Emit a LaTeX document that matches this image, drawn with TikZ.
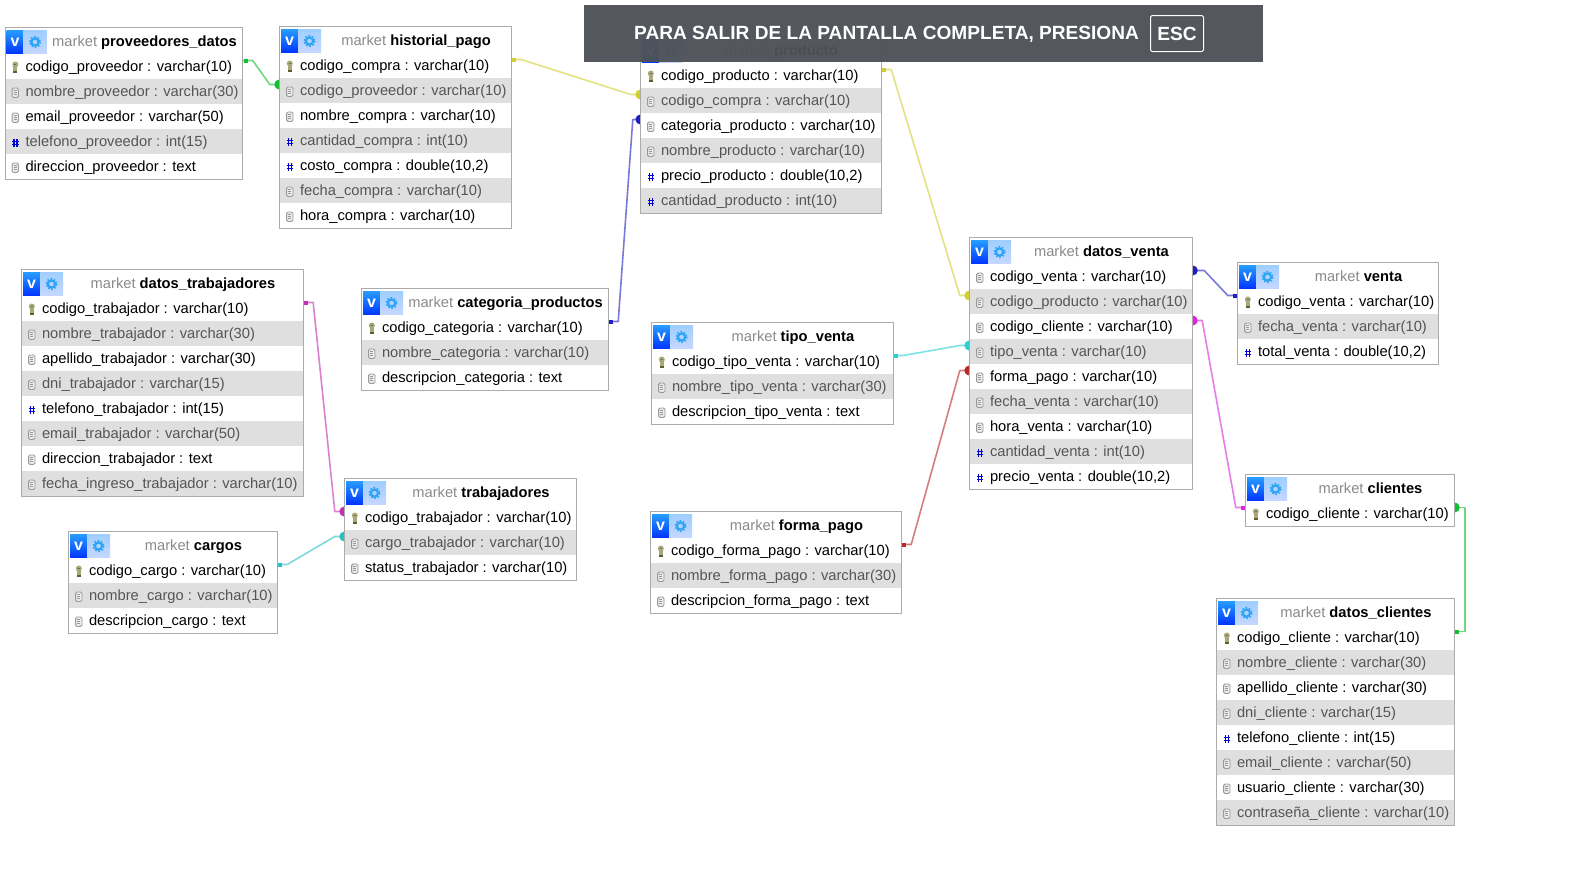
\documentclass[tikz,border=0pt]{standalone}
\usepackage{fontspec}
\setmainfont{Liberation Sans}
\usetikzlibrary{backgrounds}

\definecolor{rowgray}{HTML}{DFDFDF}
\definecolor{tableline}{HTML}{ABABAB}
\definecolor{dimtext}{HTML}{555555}
\definecolor{marketgray}{HTML}{8A8A8A}
\definecolor{gearblue}{HTML}{2FA4F5}
\definecolor{bannergray}{HTML}{4E5157}
\definecolor{keytan}{HTML}{A8A878}
\definecolor{keydark}{HTML}{5E5E34}
\definecolor{linkgreen}{HTML}{10C030}
\definecolor{linkolive}{HTML}{CFCF30}
\definecolor{linkblue}{HTML}{2020C0}
\definecolor{linkcyan}{HTML}{28D0D0}
\definecolor{linkred}{HTML}{B82828}
\definecolor{linkpink}{HTML}{D828D8}
\definecolor{linkplum}{HTML}{C030B0}
\definecolor{linkteal}{HTML}{28C0C0}

\tikzset{
  dbtitle/.style={rectangle, fill=white, minimum height=26pt, inner sep=0pt},
  dbrow/.style={rectangle, minimum height=25pt, inner sep=0pt},
  rowlabel/.style={anchor=west, inner sep=0pt, text height=11pt, text depth=3.5pt,
    font=\fontsize{14.7pt}{16pt}\selectfont},
  titlelabel/.style={inner sep=0pt, text height=11pt, text depth=3.5pt,
    font=\fontsize{14.7pt}{16pt}\selectfont},
  vlabel/.style={inner sep=0pt, text=white, font=\fontsize{16pt}{16pt}\selectfont\bfseries},
  tablebox/.style={draw=tableline, line width=1pt},
  linkline/.style={line width=1.6pt, opacity=0.6, line join=round},
  bannerlabel/.style={inner sep=0pt, text=white, font=\fontsize{19.1pt}{20pt}\selectfont\bfseries},
}

% row icons, drawn round the origin of a scope
\newcommand{\rowiconk}{%
  \fill[keytan] (0,-3) circle (3);
  \fill[keytan] (-2,-3) rectangle (2,5);
  \fill[black!60] (-1,-3.6) rectangle (1,-2.4);
  \fill[keydark] (-2,3.8) rectangle (2,5);
}
\newcommand{\rowicont}{%
  \draw[black!40, fill=black!8, rounded corners=1.5pt, line width=0.9pt] (-3.2,-4.5) rectangle (3.2,5);
  \foreach \liney in {-2,0,2} {\draw[black!40, line width=0.6pt] (-1.6,\liney) -- (1.6,\liney);}
}
\newcommand{\rowiconn}{%
  \draw[blue!85!black, line width=1.2pt]
    (-1.4,-3.5) -- (-1.4,4.5) (1.6,-3.5) -- (1.6,4.5)
    (-3.2,-1.2) -- (3.2,-1.2) (-3.2,2) -- (3.2,2);
}

% id, left, top, right, table name, rows (kind/text)
\newcommand{\dbtable}[6]{%
  \pgfmathsetmacro{\tw}{#4-#2}
  \pgfmathsetmacro{\tmid}{(#2+#4)/2}
  \pgfmathsetmacro{\tname}{(#2+#4+41)/2}
  \pgfmathsetmacro{\ttitle}{#3+13}
  \node[dbtitle, minimum width=\tw pt] (#1-title) at (\tmid,\ttitle) {};
  % header buttons
  \shade[top color=blue!45!cyan!85!white, bottom color=blue!80!cyan] (#2+1,#3+2) rectangle (#2+18,#3+26);
  \shade[top color=cyan!50!blue!38!white, bottom color=cyan!30!blue!22!white] (#2+18,#3+2) rectangle (#2+41,#3+26);
  \node[vlabel] (#1-v) at (#2+9.5,\ttitle+1) {v};
  \draw[gearblue, line width=2.2pt] (#2+29.5,\ttitle+1) circle (3.6);
  \draw[gearblue, line width=1.5pt, dash pattern=on 1.6pt off 1.8pt] (#2+29.5,\ttitle+1) circle (5.4);
  \node[titlelabel] (#1-name) at (\tname,\ttitle+2) {\textcolor{marketgray}{market} \textbf{#5}};
  % rows
  \foreach \rowkind/\rowtext [count=\n] in {#6} {
    \pgfmathsetmacro{\rowy}{#3+38.5+25*(\n-1)}
    \ifodd\n
      \node[dbrow, fill=white, minimum width=\tw pt] (#1-\n) at (\tmid,\rowy) {};
      \node[rowlabel] (#1-\n-text) at ([xshift=20pt,yshift=-1pt]#1-\n.west) {\rowtext};
    \else
      \node[dbrow, fill=rowgray, minimum width=\tw pt] (#1-\n) at (\tmid,\rowy) {};
      \node[rowlabel, text=dimtext] (#1-\n-text) at ([xshift=20pt,yshift=-1pt]#1-\n.west) {\rowtext};
    \fi
    \begin{scope}[shift={([xshift=10pt,yshift=-1pt]#1-\n.west)}]
      \csname rowicon\rowkind\endcsname
    \end{scope}
    \xdef\lastrow{\n}
  }
  \draw[tablebox] (#1-title.north west) rectangle (#1-\lastrow.south east);
}

% colour, from row, stub, to row, stub
\newcommand{\dblink}[5]{%
  \coordinate (linkfrom) at ([yshift=6pt]#2);
  \coordinate (linkto) at ([yshift=6pt]#4);
  \draw[linkline, #1] (linkfrom) -- ([xshift=#3 pt]linkfrom) -- ([xshift=#5 pt]linkto) -- (linkto);
  \fill[#1] ([xshift=.28*#3 pt]linkfrom) +(-2,-2) rectangle +(2,2);
  \fill[#1] ([xshift=.05*#5 pt]linkto) circle (5);
}

\begin{document}
\begin{tikzpicture}[x=1pt, y=-1pt]
  \useasboundingbox (0,0) rectangle (1570,870);

  \begin{scope}[shift={(1,1)}]
  % ====== TABLES ======
  \dbtable{proveedores}{4.5}{27}{241.5}{proveedores\_datos}{
    k/codigo\_proveedor : varchar(10),
    t/nombre\_proveedor : varchar(30),
    t/email\_proveedor : varchar(50),
    n/telefono\_proveedor : int(15),
    t/direccion\_proveedor : text}
  \dbtable{historial}{279}{26}{510}{historial\_pago}{
    k/codigo\_compra : varchar(10),
    t/codigo\_proveedor : varchar(10),
    t/nombre\_compra : varchar(10),
    n/cantidad\_compra : int(10),
    n/{costo\_compra : double(10,2)},
    t/fecha\_compra : varchar(10),
    t/hora\_compra : varchar(10)}
  \dbtable{producto}{640}{36}{880}{producto}{
    k/codigo\_producto : varchar(10),
    t/codigo\_compra : varchar(10),
    t/categoria\_producto : varchar(10),
    t/nombre\_producto : varchar(10),
    n/{precio\_producto : double(10,2)},
    n/cantidad\_producto : int(10)}
  \dbtable{trabdatos}{21}{269}{302}{datos\_trabajadores}{
    k/codigo\_trabajador : varchar(10),
    t/nombre\_trabajador : varchar(30),
    t/apellido\_trabajador : varchar(30),
    t/dni\_trabajador : varchar(15),
    n/telefono\_trabajador : int(15),
    t/email\_trabajador : varchar(50),
    t/direccion\_trabajador : text,
    t/fecha\_ingreso\_trabajador : varchar(10)}
  \dbtable{categoria}{361}{288}{607}{categoria\_productos}{
    k/codigo\_categoria : varchar(10),
    t/nombre\_categoria : varchar(10),
    t/descripcion\_categoria : text}
  \dbtable{tipoventa}{651}{322}{892}{tipo\_venta}{
    k/codigo\_tipo\_venta : varchar(10),
    t/nombre\_tipo\_venta : varchar(30),
    t/descripcion\_tipo\_venta : text}
  \dbtable{trabajadores}{344}{478}{575}{trabajadores}{
    k/codigo\_trabajador : varchar(10),
    t/cargo\_trabajador : varchar(10),
    t/status\_trabajador : varchar(10)}
  \dbtable{cargos}{68}{531}{276}{cargos}{
    k/codigo\_cargo : varchar(10),
    t/nombre\_cargo : varchar(10),
    t/descripcion\_cargo : text}
  \dbtable{formapago}{650}{511}{900}{forma\_pago}{
    k/codigo\_forma\_pago : varchar(10),
    t/nombre\_forma\_pago : varchar(30),
    t/descripcion\_forma\_pago : text}
  \dbtable{datosventa}{969}{237}{1191}{datos\_venta}{
    t/codigo\_venta : varchar(10),
    t/codigo\_producto : varchar(10),
    t/codigo\_cliente : varchar(10),
    t/tipo\_venta : varchar(10),
    t/forma\_pago : varchar(10),
    t/fecha\_venta : varchar(10),
    t/hora\_venta : varchar(10),
    n/cantidad\_venta : int(10),
    n/{precio\_venta : double(10,2)}}
  \dbtable{venta}{1237}{262}{1437}{venta}{
    k/codigo\_venta : varchar(10),
    t/fecha\_venta : varchar(10),
    n/{total\_venta : double(10,2)}}
  \dbtable{clientes}{1245}{474}{1453}{clientes}{
    k/codigo\_cliente : varchar(10)}
  \dbtable{datosclientes}{1216}{598}{1453}{datos\_clientes}{
    k/codigo\_cliente : varchar(10),
    t/nombre\_cliente : varchar(30),
    t/apellido\_cliente : varchar(30),
    t/dni\_cliente : varchar(15),
    n/telefono\_cliente : int(15),
    t/email\_cliente : varchar(50),
    t/usuario\_cliente : varchar(30),
    t/contrase\~na\_cliente : varchar(10)}
  \end{scope}

  % ====== RELATIONS ======
  \begin{scope}[on background layer]
    \fill[white] (0,0) rectangle (1570,870);
    \dblink{linkgreen}{proveedores-1.east}{10}{historial-2.west}{-10}
    \dblink{linkolive}{historial-1.east}{10}{producto-2.west}{-10}
    \dblink{linkblue}{categoria-1.east}{10}{producto-3.west}{-8}
    \dblink{linkolive}{producto-1.east}{10}{datosventa-2.west}{-10}
    \dblink{linkcyan}{tipoventa-1.east}{10}{datosventa-4.west}{-10}
    \dblink{linkred}{formapago-1.east}{10}{datosventa-5.west}{-10}
    \dblink{linkblue}{venta-1.west}{-10}{datosventa-1.east}{12}
    \dblink{linkpink}{clientes-1.west}{-10}{datosventa-3.east}{10}
    \dblink{linkgreen}{datosclientes-1.east}{11}{clientes-1.east}{11}
    \dblink{linkplum}{trabdatos-1.east}{10}{trabajadores-1.west}{-10}
    \dblink{linkteal}{cargos-1.east}{10}{trabajadores-2.west}{-10}
  \end{scope}

  % ====== BANNER ======
  \fill[bannergray, opacity=0.96] (584,5) rectangle (1263,62);
  \node[bannerlabel, anchor=west] (banner) at (634,34) {PARA SALIR DE LA PANTALLA COMPLETA, PRESIONA};
  \node[bannerlabel, draw=white, line width=1pt, rounded corners=1.5pt,
    minimum width=53pt, minimum height=36pt] (esc) at (1177,33.5) {ESC};
\end{tikzpicture}
\end{document}
